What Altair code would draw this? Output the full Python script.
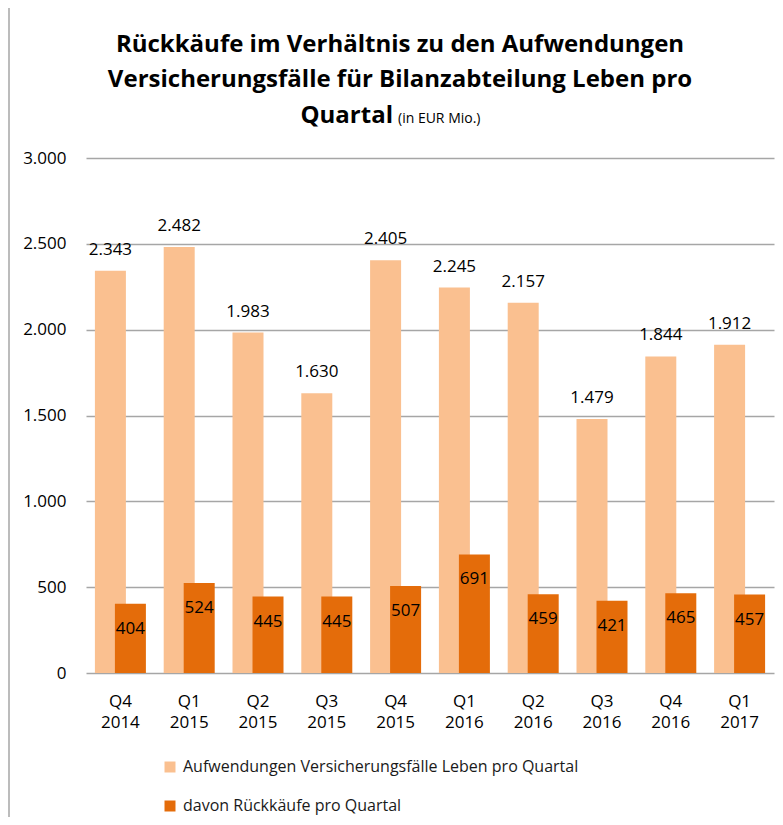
import altair as alt
import pandas as pd

categories = ["Q4 2014", "Q1 2015", "Q2 2015", "Q3 2015", "Q4 2015",
              "Q1 2016", "Q2 2016", "Q3 2016", "Q4 2016", "Q1 2017"]
aufwendungen = [2343, 2482, 1983, 1630, 2405, 2245, 2157, 1479, 1844, 1912]
rueckkaeufe = [404, 524, 445, 445, 507, 691, 459, 421, 465, 457]

S1 = "Aufwendungen Versicherungsfälle Leben pro Quartal"
S2 = "davon Rückkäufe pro Quartal"
LIGHT = "#FAC090"
DARK = "#E46C0A"
FONT = "Open Sans"

rows = []
for c, a, r in zip(categories, aufwendungen, rueckkaeufe):
    rows.append({"cat": c, "series": S1, "value": a})
    rows.append({"cat": c, "series": S2, "value": r})
df = pd.DataFrame(rows)

W, H = 688, 515

base = alt.Chart(df).transform_calculate(
    label="replace(format(datum.value, ','), ',', '.')"
)

x = alt.X("cat:N", sort=categories, title=None,
          scale=alt.Scale(paddingInner=0, paddingOuter=0),
          axis=alt.Axis(labelExpr="split(datum.value, ' ')", labelAngle=0,
                        labelFont=FONT, labelFontSize=17, labelColor="#000",
                        labelLineHeight=21, labelPadding=20, ticks=False,
                        domain=False, grid=False))
y = alt.Y("value:Q", title=None,
          scale=alt.Scale(domain=[0, 3000], nice=False),
          axis=alt.Axis(values=[0, 500, 1000, 1500, 2000, 2500, 3000],
                        labelExpr="replace(format(datum.value, ','), ',', '.')",
                        labelFont=FONT, labelFontSize=17, labelColor="#000",
                        labelPadding=20, ticks=False, domain=False,
                        gridColor="#A6A6A6", gridWidth=1.5))
color = alt.Color("series:N",
                  scale=alt.Scale(domain=[S1, S2], range=[LIGHT, DARK]),
                  legend=alt.Legend(title=None, orient="none", direction="vertical",
                                    legendX=76, legendY=601,
                                    symbolType="square", symbolSize=121,
                                    symbolStrokeWidth=0, labelFont=FONT,
                                    labelFontSize=16, labelColor="#1a1a1a",
                                    labelLimit=600,
                                    rowPadding=23, labelOffset=5))

bars1 = base.transform_filter(alt.datum.series == S1).mark_bar(
    width=31, xOffset=-10).encode(x=x, y=y, color=color)
bars2 = base.transform_filter(alt.datum.series == S2).mark_bar(
    width=31, xOffset=10).encode(x=x, y=y, color=color)

txt1 = base.transform_filter(alt.datum.series == S1).mark_text(
    dx=-10, dy=-21, baseline="middle", font=FONT, fontSize=17, color="#000"
).encode(x=alt.X("cat:N", sort=categories), y="value:Q", text="label:N")
txt2 = base.transform_filter(alt.datum.series == S2).mark_text(
    dx=10, dy=25, baseline="middle", font=FONT, fontSize=17, color="#000"
).encode(x=alt.X("cat:N", sort=categories), y="value:Q", text="label:N")

one = alt.Data(values=[{"a": 1}])
TITLE_X = 314
t1 = alt.Chart(one).mark_text(font=FONT, fontSize=24, fontWeight="bold",
                              baseline="middle", align="center", color="#000").encode(
    x=alt.value(TITLE_X), y=alt.value(45 - 158),
    text=alt.value("Rückkäufe im Verhältnis zu den Aufwendungen"))
t2 = alt.Chart(one).mark_text(font=FONT, fontSize=24, fontWeight="bold",
                              baseline="middle", align="center", color="#000").encode(
    x=alt.value(TITLE_X), y=alt.value(80 - 158),
    text=alt.value("Versicherungsfälle für Bilanzabteilung Leben pro"))
t3 = alt.Chart(one).mark_text(font=FONT, fontSize=24, fontWeight="bold",
                              baseline="alphabetic", align="right", color="#000").encode(
    x=alt.value(393 - 86), y=alt.value(123 - 158), text=alt.value("Quartal"))
t4 = alt.Chart(one).mark_text(font=FONT, fontSize=14,
                              baseline="alphabetic", align="left", color="#000").encode(
    x=alt.value(398 - 86), y=alt.value(123 - 158), text=alt.value("(in EUR Mio.)"))

frame_top = alt.Chart(one).mark_rule(color="#A6A6A6", strokeWidth=1.5).encode(
    x=alt.value(-78), x2=alt.value(W + 1), y=alt.value(-157))
frame_left = alt.Chart(one).mark_rule(color="#A6A6A6", strokeWidth=1.5).encode(
    x=alt.value(-77), y=alt.value(-158), y2=alt.value(H + 144))

chart = alt.layer(bars1, bars2, txt1, txt2, t1, t2, t3, t4, frame_top, frame_left).properties(
    width=W, height=H,
    autosize=alt.AutoSizeParams(type="none"),
    padding={"left": 78, "top": 150, "right": 1, "bottom": 144},
).configure_view(stroke=None)

chart.save("out.html", embed_options={"renderer": "svg", "actions": False})
